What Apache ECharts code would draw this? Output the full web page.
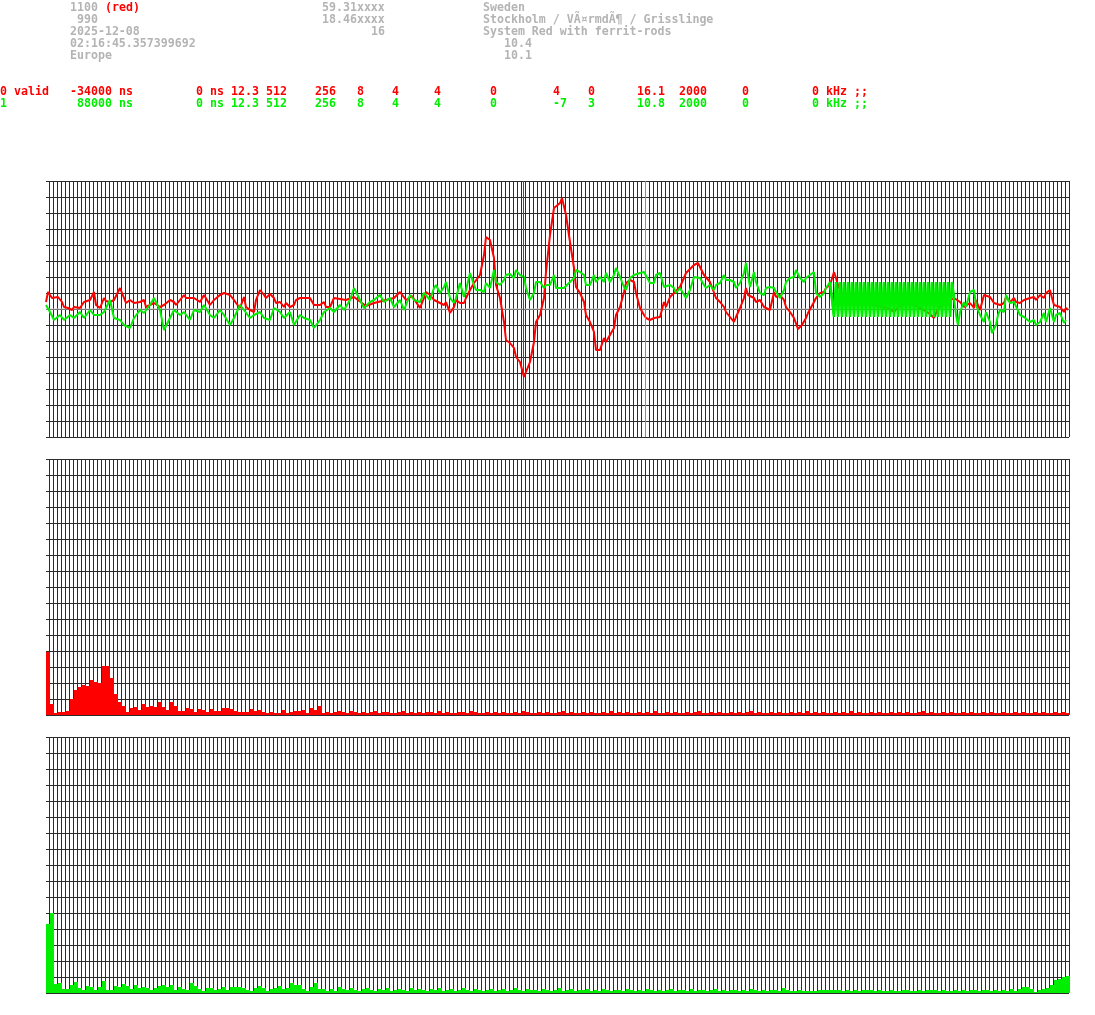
<!DOCTYPE html>
<html><head><meta charset="utf-8">
<script src="https://cdn.jsdelivr.net/npm/echarts@6/dist/echarts.min.js"></script>
<style>html,body{margin:0;padding:0;background:#fff}#c{width:1095px;height:1015px}</style>
</head><body><div id="c"></div><script>
// ---------- DATA ----------
// waveform samples: [sample index, amplitude] (amplitude 0 = centre line, +-128 = panel edge)
const redWave = [[0,7],[1,17],[3,11],[4,12],[6,12],[8,7],[9,2],[11,1],[13,-1],[14,2],[15,4],[17,1],[19,7],[20,6],[22,9],[24,17],[25,4],[27,1],[29,11],[30,8],[32,7],[34,9],[35,7],[37,21],[39,11],[40,6],[42,9],[44,6],[45,7],[47,7],[49,9],[50,2],[52,4],[54,6],[55,4],[57,2],[59,4],[60,6],[62,9],[64,7],[65,4],[67,9],[69,14],[70,11],[72,11],[74,11],[75,12],[77,7],[79,14],[80,12],[82,4],[84,9],[85,7],[87,14],[89,16],[90,16],[92,14],[94,9],[95,6],[97,1],[99,12],[100,2],[102,-1],[104,-3],[105,9],[107,19],[109,14],[110,11],[112,15],[114,11],[115,6],[117,7],[119,2],[120,6],[122,2],[124,4],[125,9],[127,11],[129,11],[130,11],[132,11],[134,4],[135,6],[137,4],[139,7],[140,2],[142,2],[144,11],[145,10],[147,10],[150,9],[154,12],[160,3],[164,6],[170,9],[174,11],[177,17],[180,9],[183,13],[187,1],[189,11],[190,17],[192,14],[194,9],[196,7],[199,4],[200,7],[202,-4],[204,2],[205,9],[207,6],[209,6],[210,11],[212,19],[214,26],[215,24],[217,34],[219,54],[220,72],[222,69],[224,51],[225,24],[227,11],[229,-13],[230,-31],[232,-34],[234,-39],[235,-48],[237,-53],[239,-68],[240,-63],[242,-53],[244,-33],[245,-13],[247,-6],[249,11],[250,37],[252,74],[254,101],[255,102],[257,106],[258,111],[260,94],[262,67],[264,41],[265,22],[267,16],[269,7],[270,-6],[272,-13],[274,-23],[275,-41],[277,-41],[279,-29],[280,-33],[282,-26],[284,-19],[285,-6],[287,2],[289,17],[290,26],[292,29],[294,27],[295,16],[297,1],[299,-6],[300,-9],[302,-11],[304,-9],[305,-9],[307,-8],[309,7],[310,2],[312,12],[314,16],[317,22],[320,36],[324,44],[326,46],[329,34],[332,27],[335,11],[337,7],[339,2],[340,-3],[342,-8],[344,-13],[345,-8],[347,1],[349,11],[350,21],[351,14],[352,12],[354,11],[355,7],[357,9],[359,2],[360,1],[362,-1],[364,17],[365,12],[367,14],[369,9],[370,2],[372,-3],[374,-9],[375,-11],[376,-20],[378,-16],[380,-9],[381,-4],[384,7],[385,11],[387,16],[389,17],[390,21],[392,24],[394,37],[395,31],[396,24],[398,15],[402,8],[406,5],[410,8],[414,4],[418,2],[422,0],[424,-3],[426,2],[430,6],[434,4],[438,0],[442,-5],[444,-9],[446,1],[450,6],[454,11],[455,9],[457,7],[459,2],[460,4],[462,6],[464,1],[465,9],[467,-1],[469,14],[470,16],[472,12],[474,6],[475,7],[477,4],[479,6],[480,12],[482,7],[484,11],[485,7],[487,6],[489,9],[490,7],[492,11],[494,12],[495,9],[497,14],[499,11],[500,16],[502,19],[503,11],[504,4],[505,4],[507,2],[509,-3],[510,1],[511,-1]];
const greenWave = [[0,4],[2,-3],[4,-11],[7,-6],[9,-11],[12,-6],[14,-9],[17,-3],[19,-9],[22,-1],[24,-6],[27,-6],[29,-3],[32,9],[34,-9],[37,-11],[39,-16],[42,-19],[44,-9],[47,-1],[49,-4],[52,4],[54,11],[57,-1],[59,-21],[62,-9],[64,-1],[67,-6],[69,-3],[72,-11],[74,-1],[77,-3],[79,4],[82,-6],[84,-9],[87,-1],[89,-6],[92,-16],[94,-9],[97,4],[99,-1],[102,-9],[104,-6],[107,-3],[109,-9],[112,-11],[114,1],[117,-3],[119,-9],[122,-3],[124,-16],[127,-6],[129,-9],[132,-11],[134,-19],[137,-11],[139,-3],[142,1],[144,-3],[147,4],[149,-1],[152,9],[154,21],[157,9],[159,1],[162,7],[164,9],[167,14],[169,7],[172,11],[174,2],[177,9],[179,-1],[182,14],[184,9],[187,7],[189,16],[190,14],[192,9],[194,21],[195,24],[197,16],[199,22],[200,27],[202,11],[204,6],[205,11],[207,26],[209,12],[210,19],[212,36],[214,24],[215,19],[217,19],[219,17],[220,26],[222,21],[224,39],[225,27],[227,24],[229,29],[230,34],[232,35],[234,31],[235,39],[237,34],[239,32],[240,21],[242,9],[244,16],[245,27],[247,27],[249,21],[250,24],[252,24],[254,34],[255,21],[257,21],[259,21],[260,21],[262,27],[264,31],[265,39],[267,37],[269,34],[270,24],[272,24],[274,34],[275,27],[277,32],[279,27],[280,36],[282,27],[284,34],[285,41],[287,32],[289,22],[290,19],[292,31],[294,34],[295,36],[297,36],[299,37],[300,39],[302,26],[304,26],[305,34],[307,36],[309,22],[310,21],[312,24],[314,21],[315,16],[317,21],[320,11],[322,19],[324,32],[325,34],[327,31],[329,24],[330,21],[332,24],[334,19],[335,24],[337,26],[339,34],[340,29],[342,29],[344,27],[345,21],[347,26],[349,36],[350,46],[351,34],[352,22],[354,37],[355,27],[357,16],[359,14],[360,21],[362,22],[364,21],[365,17],[367,11],[369,19],[370,27],[372,31],[374,32],[375,39],[377,31],[379,27],[380,31],[382,34],[384,37],[385,16],[387,12],[389,16],[390,21],[392,27],
[393,27],[394,-8],[395,27],[396,-8],[397,27],[398,-8],[399,27],[400,-8],[401,27],[402,-8],[403,27],[404,-8],[405,27],[406,-8],[407,27],[408,-8],[409,27],[410,-8],[411,27],[412,-8],[413,27],[414,-8],[415,27],[416,-8],[417,27],[418,-8],[419,27],[420,-8],[421,27],[422,-8],[423,27],[424,-8],[425,27],[426,-8],[427,27],[428,-8],[429,27],[430,-8],[431,27],[432,-8],[433,27],[434,-8],[435,27],[436,-8],[437,27],[438,-8],[439,27],[440,-8],[441,27],[442,-8],[443,27],[444,-8],[445,27],[446,-8],[447,27],[448,-8],[449,27],[450,-8],[451,27],[452,-8],[453,27],
[454,11],[455,-6],[456,-16],[457,-3],[459,7],[460,2],[462,17],[464,19],[465,4],[467,-6],[469,-13],[470,-3],[472,-13],[473,-24],[475,-16],[476,-6],[477,-1],[479,-3],[480,14],[482,6],[484,7],[485,7],[487,-6],[489,-8],[490,-9],[492,-13],[494,-11],[495,-16],[497,-13],[499,-4],[500,-13],[502,1],[504,-13],[505,-6],[507,-4],[509,-14],[510,-11]];
const burstRange = [392, 454];          // sample range of the green burst
const sampleRange = [0, 512];
const centreLevel = 0;
const redMarkerSample = 238.75;
const greenMarkerSample = 299.75;

// spectra: 256 bins each, bar height (0..256)
const redSpectrum = [63,11,2,3,3,4,16,25,28,30,29,35,33,32,49,49,37,21,13,9,3,7,8,5,11,8,9,8,13,8,5,13,9,4,4,7,6,3,6,5,3,6,4,4,7,7,6,4,3,3,3,6,4,5,3,2,3,2,2,5,2,3,4,4,5,2,7,5,9,2,3,2,3,4,
3,2,4,3,2,3,2,3,4,2,3,3,2,2,3,4,2,3,2,3,
2,3,3,2,4,2,3,2,2,3,3,2,4,3,2,2,3,2,3,2,
3,2,2,3,2,4,3,2,2,3,2,3,2,2,3,4,2,3,2,2,
3,2,3,2,2,3,2,4,2,3,2,3,2,2,3,2,3,2,4,2,
2,3,2,3,2,2,3,2,3,4,2,2,3,2,3,2,2,3,2,3,
2,3,4,2,3,2,2,3,2,3,2,2,3,2,3,2,4,2,3,2,
3,2,2,3,2,3,2,4,2,3,2,2,3,2,3,2,2,3,2,3,
2,3,2,2,3,4,2,3,2,2,3,2,3,2,2,3,2,3,2,2,
3,2,3,2,2,3,2,2,3,2,3,2,2,3,2,3,2,2,3,2,
3,2];
const greenSpectrum = [69,80,9,10,4,4,8,11,5,3,7,6,3,6,12,3,3,7,6,9,7,4,8,5,6,5,3,5,7,8,6,8,3,6,4,3,10,7,4,2,5,5,3,4,6,3,6,6,6,5,3,2,5,7,5,2,4,5,7,4,5,10,8,8,4,2,6,10,4,4,2,4,2,6,
4,3,5,3,2,4,5,3,2,4,3,5,2,3,4,3,2,5,3,4,
3,2,4,3,5,2,3,4,2,3,5,3,2,4,3,2,3,4,2,3,
4,2,3,5,3,2,4,3,3,2,4,3,2,3,5,2,3,4,2,3,
3,4,2,3,2,4,3,2,3,3,2,4,3,2,3,2,4,3,2,3,
2,3,4,2,3,3,2,4,2,3,3,2,3,4,2,3,2,3,3,2,
3,2,4,3,2,3,2,3,3,2,
5,3,2,2,3,2,2,2,2,3,3,3,3,3,3,2,3,2,3,2,3,
3,3,2,3,2,2,3,2,2,3,3,2,2,3,2,3,3,3,2,3,2,2,3,2,3,2,3,3,2,3,3,2,3,2,3,2,
4,2,4,6,6,4,1,3,4,5,8,13,14,16,17];
const spectrumBins = redSpectrum.map((_, i) => String(i));

// header text
const infoRows = [
  [[10, '1100', 'g'], [15, '(red)', 'r'], [46, '59.31xxxx', 'g'], [69, 'Sweden', 'g']],
  [[11, '990', 'g'], [46, '18.46xxxx', 'g'], [69, 'Stockholm / VÃ¤rmdÃ¶ / Grisslinge', 'g']],
  [[10, '2025-12-08', 'g'], [53, '16', 'g'], [69, 'System Red with ferrit-rods', 'g']],
  [[10, '02:16:45.357399692', 'g'], [72, '10.4', 'g']],
  [[10, 'Europe', 'g'], [72, '10.1', 'g']]
];
const channelRows = [
  [[0,'0'],[2,'valid'],[10,'-34000'],[17,'ns'],[28,'0'],[30,'ns'],[33,'12.3'],[38,'512'],[45,'256'],[51,'8'],[56,'4'],[62,'4'],[70,'0'],[79,'4'],[84,'0'],[91,'16.1'],[97,'2000'],[106,'0'],[116,'0'],[118,'kHz'],[122,';;']],
  [[0,'1'],[11,'88000'],[17,'ns'],[28,'0'],[30,'ns'],[33,'12.3'],[38,'512'],[45,'256'],[51,'8'],[56,'4'],[62,'4'],[70,'0'],[79,'-7'],[84,'3'],[91,'10.8'],[97,'2000'],[106,'0'],[116,'0'],[118,'kHz'],[122,';;']]
];

// ---------- STYLE / LAYOUT ----------
const RED = '#ff0000', GREEN = '#00ee00', GRAY = '#b4b4b4', GRID = '#2c2c2c';
const CW = 7;
const FONT = 'bold 11.6px "DejaVu Sans Mono", "Liberation Mono", monospace';
const panelTops = [181, 459, 737];
const PH = 256;

const chart = echarts.init(document.getElementById('c'), null, {renderer: 'canvas'});

const grids = [], xAxes = [], yAxes = [], series = [];
const hidden = {show: false};
// frame grids (grid lines)
panelTops.forEach((t, k) => {
  grids.push({left: 49, top: t, width: 1020, height: PH});
  xAxes.push({type: 'value', gridIndex: k, min: 0, max: 255, interval: 1,
    axisLine: hidden, axisTick: hidden, axisLabel: hidden,
    splitLine: {show: true, lineStyle: {color: GRID, width: 1}}});
  yAxes.push({type: 'value', gridIndex: k, min: 0, max: 16, interval: 1,
    axisLine: hidden, axisLabel: hidden,
    axisTick: {show: true, length: 3, lineStyle: {color: GRID, width: 1}},
    splitLine: {show: true, lineStyle: {color: GRID, width: 1}}});
});
// waveform grid (index 3)
grids.push({left: 46, top: panelTops[0], width: 1024, height: PH});
xAxes.push({type: 'value', gridIndex: 3, min: sampleRange[0], max: sampleRange[1], show: false, splitLine: hidden});
yAxes.push({type: 'value', gridIndex: 3, min: -128, max: 128, show: false, splitLine: hidden});
// spectrum grids (4, 5)
[1, 2].forEach((p, j) => {
  grids.push({left: 46, top: panelTops[p], width: 1024, height: PH});
  xAxes.push({type: 'category', gridIndex: 4 + j, data: spectrumBins, show: false, boundaryGap: true});
  yAxes.push({type: 'value', gridIndex: 4 + j, min: 0, max: 256, show: false, splitLine: hidden});
});

// centre line (+ trigger markers)
series.push({type: 'line', xAxisIndex: 3, yAxisIndex: 3, z: 1, silent: true, showSymbol: false,
  data: [[sampleRange[0], centreLevel], [sampleRange[1], centreLevel]],
  lineStyle: {color: '#c8c8c8', width: 1}, animation: false,
  markLine: {silent: true, symbol: 'none', animation: false, label: {show: false},
    data: [
      {xAxis: redMarkerSample, lineStyle: {color: RED, width: 1, type: 'solid'}},
      {xAxis: greenMarkerSample, lineStyle: {color: GREEN, width: 1, type: 'solid'}}
    ]}});
series.push({type: 'line', xAxisIndex: 3, yAxisIndex: 3, data: redWave, showSymbol: false, z: 3,
  lineStyle: {color: RED, width: 2}, itemStyle: {color: RED}, animation: false});
series.push({type: 'line', xAxisIndex: 3, yAxisIndex: 3, data: greenWave, showSymbol: false, z: 4,
  lineStyle: {color: GREEN, width: 2}, itemStyle: {color: GREEN}, animation: false});
// burst part of green drawn a bit heavier so it fills like the original raster plot
series.push({type: 'line', xAxisIndex: 3, yAxisIndex: 3, z: 5, showSymbol: false, animation: false,
  data: greenWave.filter(p => p[0] >= burstRange[0] && p[0] <= burstRange[1]),
  lineStyle: {color: GREEN, width: 2.5}, itemStyle: {color: GREEN}});
series.push({type: 'bar', xAxisIndex: 4, yAxisIndex: 4, data: redSpectrum, barWidth: 4, barGap: '0%',
  itemStyle: {color: RED}, z: 3, animation: false});
series.push({type: 'bar', xAxisIndex: 5, yAxisIndex: 5, data: greenSpectrum, barWidth: 4, barGap: '0%',
  itemStyle: {color: GREEN}, z: 3, animation: false});

const graphics = [];
const rowY = [7.5, 19.5, 31.5, 43.5, 55.5];
infoRows.forEach((row, r) => row.forEach(([col, txt, c]) => {
  graphics.push({type: 'text', x: col * CW, y: rowY[r],
    style: {text: txt, fill: c === 'r' ? RED : GRAY, font: FONT, verticalAlign: 'middle', textVerticalAlign: 'middle'}});
}));
const chY = [92, 104];
channelRows.forEach((row, r) => row.forEach(([col, txt]) => {
  graphics.push({type: 'text', x: col * CW, y: chY[r],
    style: {text: txt, fill: r === 0 ? RED : GREEN, font: FONT, verticalAlign: 'middle', textVerticalAlign: 'middle'}});
}));

chart.setOption({
  animation: false,
  backgroundColor: '#ffffff',
  grid: grids, xAxis: xAxes, yAxis: yAxes, series: series,
  graphic: graphics
});
</script></body></html>
